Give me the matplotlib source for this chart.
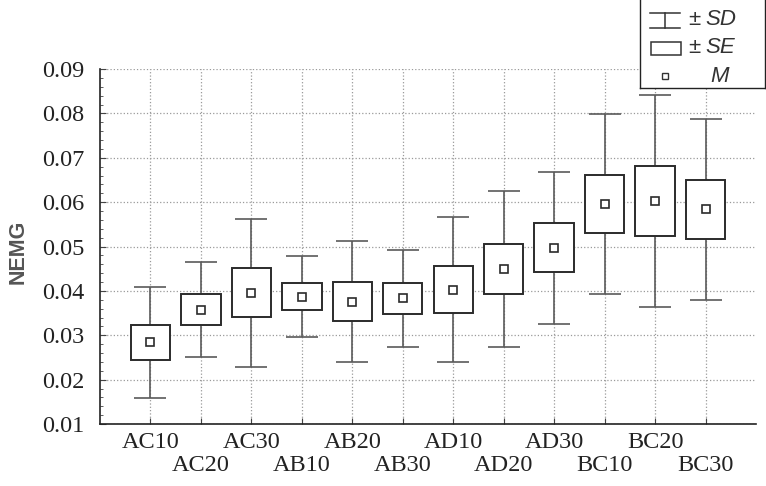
import numpy as np
import matplotlib
matplotlib.use("Agg")
import matplotlib.pyplot as plt
from matplotlib.patches import Rectangle
from matplotlib.lines import Line2D

# ---------------------------------------------------------------
# NEMG per condition: mean, standard error, standard deviation
# ---------------------------------------------------------------
groups = ["AC10", "AC20", "AC30", "AB10", "AB20", "AB30",
          "AD10", "AD20", "AD30", "BC10", "BC20", "BC30"]
mean = np.array([0.0284, 0.0357, 0.0396, 0.0387, 0.0376, 0.0383,
                 0.0403, 0.0449, 0.0497, 0.0595, 0.0602, 0.0584])
se = np.array([0.0040, 0.0035, 0.0055, 0.0030, 0.0043, 0.0035,
               0.0053, 0.0057, 0.0055, 0.0065, 0.0079, 0.0066])
sd = np.array([0.0125, 0.0107, 0.0167, 0.0092, 0.0137, 0.0110,
               0.0163, 0.0176, 0.0171, 0.0203, 0.0239, 0.0204])
yticks = [0.01, 0.02, 0.03, 0.04, 0.05, 0.06, 0.07, 0.08, 0.09]

W, H = 766, 486
fig = plt.figure(figsize=(W / 100, H / 100), dpi=100)
ax = fig.add_axes([100 / W, (H - 424) / H, 656 / W, 355 / H])

x = np.arange(len(groups))
box_col = '#2b2b2b'
wh_col = '#5a5a5a'

# whiskers (± SD)
ax.errorbar(x, mean, yerr=sd, fmt='none', ecolor=wh_col, elinewidth=1.2,
            capsize=11.4, capthick=1.2, zorder=2)
# boxes (± SE)
ax.bar(x, 2 * se, bottom=mean - se, width=0.78, color='white',
       edgecolor=box_col, linewidth=1.4, zorder=3)
# means
ax.plot(x, mean, 's', ms=5.5, mfc='white', mec=box_col, mew=1.2, zorder=4)

ax.set_xlim(-1, 12)
ax.set_ylim(0.01, 0.09)
ax.set_yticks(yticks)
ax.set_yticklabels([f"{v:.2f}" for v in yticks])
ax.set_yticks(np.arange(0.01, 0.0901, 0.002), minor=True)
ax.set_xticks(x)
ax.set_xticklabels(groups)

ax.grid(True, which='major', linestyle=':', color='#9a9a9a', linewidth=0.9)
ax.set_axisbelow(True)
for s in ['top', 'right']:
    ax.spines[s].set_visible(False)
for s in ['left', 'bottom']:
    ax.spines[s].set_color('#222222')
    ax.spines[s].set_linewidth(1.2)

serif = ['Liberation Serif', 'DejaVu Serif']
ax.tick_params(axis='both', which='major', direction='in', length=4,
               color='#444444', labelcolor='#222222', labelsize=17.5)
ax.tick_params(axis='y', which='minor', direction='in', length=2.5, color='#444444')
ax.tick_params(axis='y', which='major', pad=11)
for lab in ax.get_xticklabels() + ax.get_yticklabels():
    lab.set_family(serif)

# staggered category labels
for i, t in enumerate(ax.xaxis.get_major_ticks()):
    t.set_pad(6 if i % 2 == 0 else 22.5)

fig.text(18 / W, 1 - 252 / H, 'NEMG', rotation=90, ha='center', va='center',
         fontsize=15.5, fontweight='bold', color='#555555',
         family=['Liberation Sans', 'DejaVu Sans'])

# legend panel (clipped by the figure edge at the top)
lg = fig.add_axes([640 / W, (H - 88) / H, 125 / W, 100 / H])
lg.set_xlim(640, 765)
lg.set_ylim(88, -12)
lg.set_xticks([])
lg.set_yticks([])
for s in lg.spines.values():
    s.set_color('#222222')
    s.set_linewidth(1.0)
lg.add_line(Line2D([650, 680], [13, 13], color='#333333', lw=1.1))
lg.add_line(Line2D([665, 665], [13, 28], color='#333333', lw=1.1))
lg.add_line(Line2D([650, 680], [28, 28], color='#333333', lw=1.1))
lg.add_patch(Rectangle((651, 42), 30, 13, facecolor='white',
                       edgecolor='#333333', lw=1.1))
lg.plot([665], [76], 's', ms=5, mfc='white', mec='#333333', mew=1.0)
sans = ['Liberation Sans', 'DejaVu Sans']
for yy, lab in [(20, 'SD'), (48, 'SE')]:
    lg.text(688, yy, '±', ha='left', va='center', fontsize=16,
            color='#333333', family=sans)
    lg.text(705, yy, lab, ha='left', va='center', fontsize=16,
            color='#333333', family=sans, style='italic')
lg.text(720, 76, 'M', ha='center', va='center', fontsize=16, color='#333333',
        family=sans, style='italic')

fig.savefig('out.png', dpi=100)
